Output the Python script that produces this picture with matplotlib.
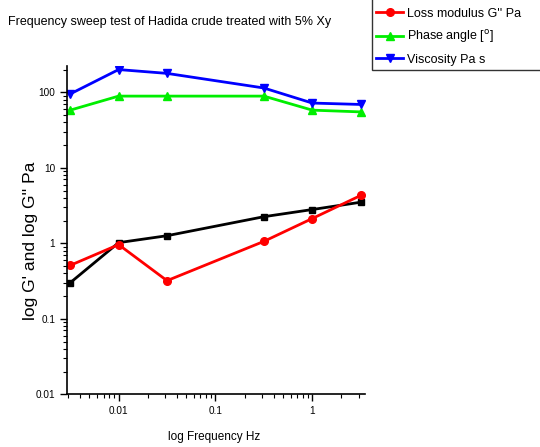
import matplotlib
matplotlib.use("Agg")
import matplotlib.pyplot as plt
from matplotlib import font_manager

names = {f.name for f in font_manager.fontManager.ttflist}
NARROW = 'Liberation Sans Narrow' in names
plt.rcParams['font.family'] = ['Liberation Sans', 'DejaVu Sans']

freq = [0.00316, 0.01, 0.0316, 0.316, 1.0, 3.16]
storage = [0.30, 1.02, 1.26, 2.25, 2.8, 3.5]
loss = [0.51, 0.96, 0.32, 1.06, 2.13, 4.3]
phase = [58, 89, 89, 89, 58, 55]
viscosity = [95, 200, 178, 114, 72, 69]

labels = ["Storage modulus G' Pa", "Loss modulus G'' Pa",
          r"Phase angle [$^{\mathrm{o}}$]", "Viscosity Pa s"]

if NARROW:
    nfam = ['Liberation Sans Narrow', 'DejaVu Sans']
    k = 1.0 / 0.82
else:
    nfam = ['Liberation Sans', 'DejaVu Sans']
    k = 1.0

fig = plt.figure(figsize=(5.40, 4.47), dpi=100)
ax = fig.add_axes([67/540, 1-394.3/447, (365-67)/540, (394.3-65.7)/447])

ax.plot(freq, storage, color='black', marker='s', ms=5, lw=2, label=labels[0])
ax.plot(freq, loss, color='red', marker='o', ms=5.5, lw=2, label=labels[1])
ax.plot(freq, phase, color='#00ee00', marker='^', ms=6, lw=2, label=labels[2])
ax.plot(freq, viscosity, color='blue', marker='v', ms=6, lw=2, label=labels[3])

ax.set_xscale('log')
ax.set_yscale('log')
ax.set_xlim(0.00293, 3.5)
ax.set_ylim(0.01, 225)
ax.spines['top'].set_visible(False)
ax.spines['right'].set_visible(False)
ax.spines['left'].set_linewidth(1.2)
ax.spines['bottom'].set_linewidth(1.2)
ax.set_xticks([0.01, 0.1, 1])
ax.set_xticklabels(['0.01', '0.1', '1'])
ax.set_yticks([0.01, 0.1, 1, 10, 100])
ax.set_yticklabels(['0.01', '0.1', '1', '10', '100'])
ax.tick_params(which='major', direction='out', length=5, width=1)
ax.tick_params(which='minor', direction='out', length=3, width=0.8)
for t in ax.get_xticklabels() + ax.get_yticklabels():
    t.set_family(nfam)
    t.set_fontsize(7.2 * k)

fig.text(8/540, 1-22/447, "Frequency sweep test of Hadida crude treated with 5% Xy",
         fontsize=9 * k, va='center', ha='left', family=nfam)
fig.text(214/540, 1-437/447, "log Frequency Hz", fontsize=8.5 * k,
         ha='center', va='center', family=nfam)
fig.text(31/540, 1-241/447, "log G' and log G'' Pa", fontsize=12.5, rotation=90,
         ha='center', va='center')

leg = fig.legend(loc='lower left', bbox_to_anchor=(372/540, 1-70/447),
                 prop={'family': nfam, 'size': 9 * k}, frameon=True,
                 fancybox=False, borderaxespad=0,
                 handlelength=2.1 / k, handletextpad=0.35 / k,
                 labelspacing=0.68 / k, borderpad=0.35 / k)
leg.get_frame().set_edgecolor('black')
leg.get_frame().set_linewidth(1.0)

fig.savefig('out.png', dpi=100)
